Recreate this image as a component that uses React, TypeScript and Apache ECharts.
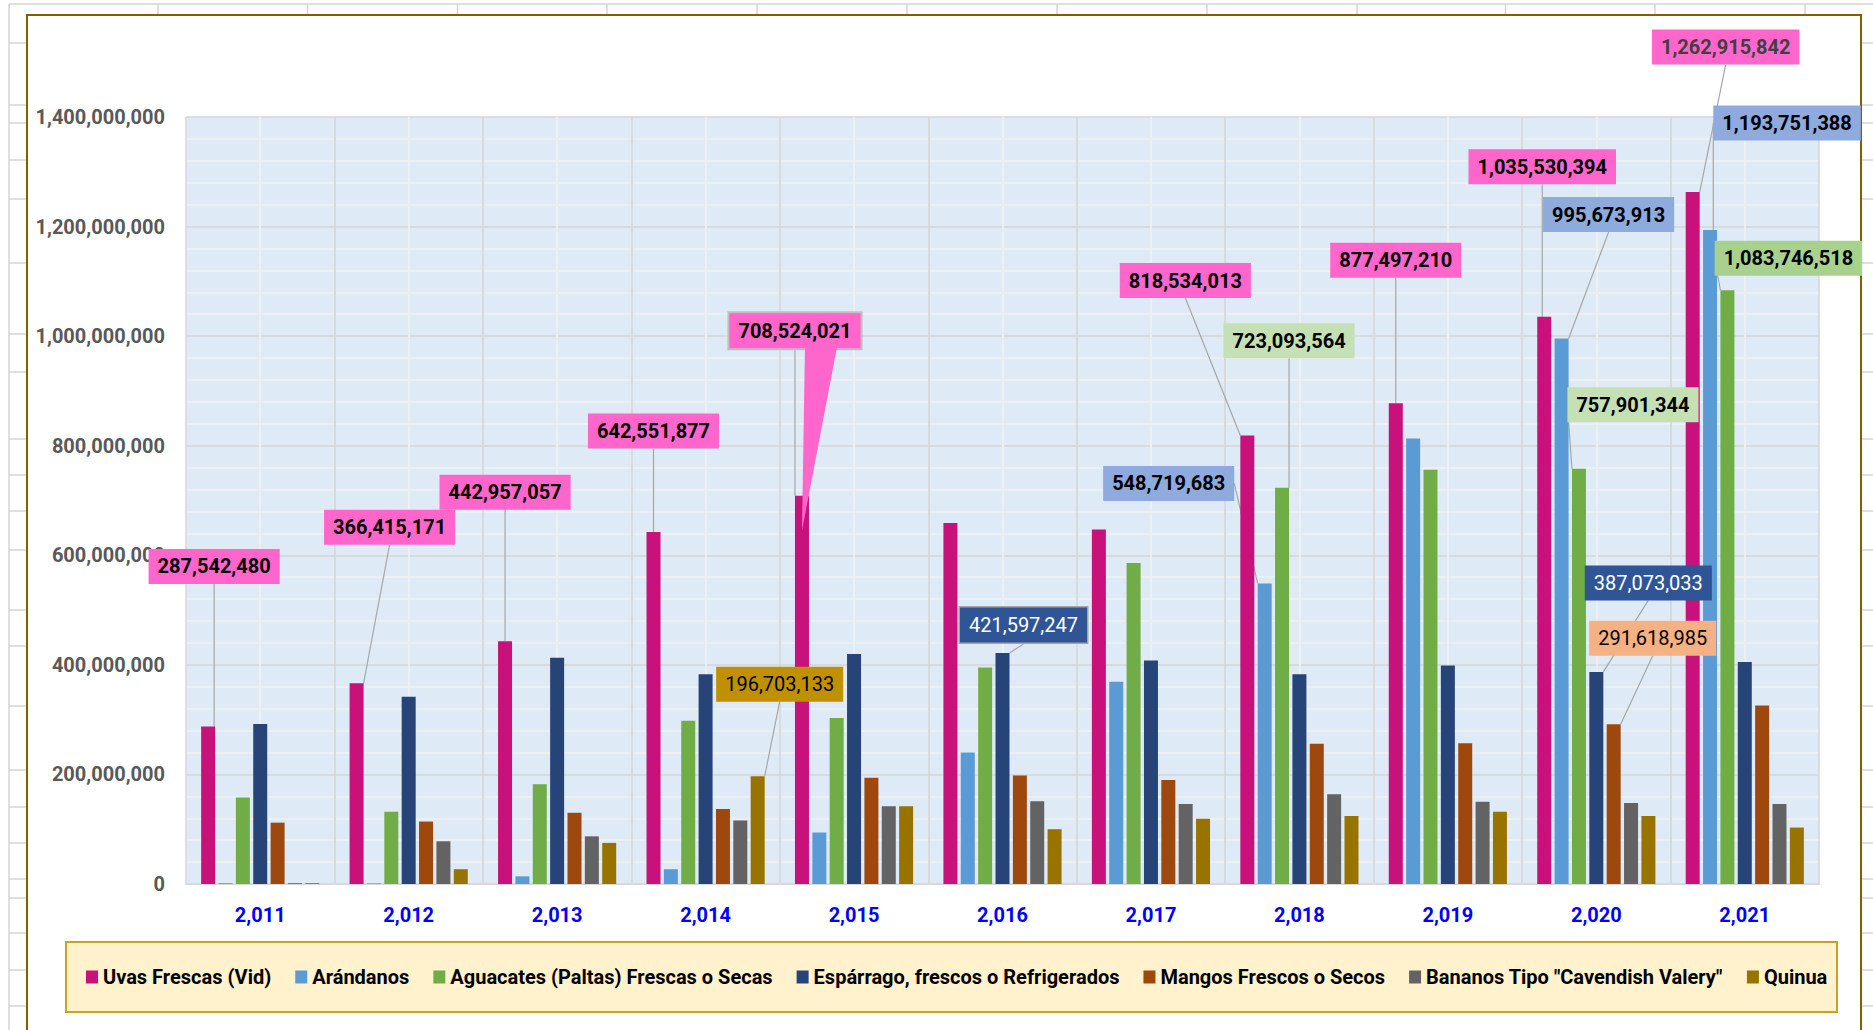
import React, { useEffect, useRef } from 'react';
import * as echarts from 'echarts';

// ---------- DATA ----------
const years = [2011, 2012, 2013, 2014, 2015, 2016, 2017, 2018, 2019, 2020, 2021];

const seriesNames = [
  'Uvas Frescas (Vid)',
  'Arándanos',
  'Aguacates (Paltas) Frescas o Secas',
  'Espárrago, frescos o Refrigerados',
  'Mangos Frescos o Secos',
  'Bananos Tipo "Cavendish Valery"',
  'Quinua',
];

const uvas = [287542480, 366415171, 442957057, 642551877, 708524021, 659000000, 647000000, 818534013, 877497210, 1035530394, 1262915842];
const arandanos = [1500000, 1200000, 14000000, 27000000, 94000000, 240000000, 369000000, 548719683, 813000000, 995673913, 1193751388];
const aguacates = [158000000, 132000000, 182000000, 298000000, 303000000, 395000000, 586000000, 723093564, 756000000, 757901344, 1083746518];
const esparrago = [292000000, 342000000, 413000000, 383000000, 420000000, 421597247, 408000000, 383000000, 399000000, 387073033, 405000000];
const mangos = [112000000, 114000000, 130000000, 137000000, 194000000, 198000000, 190000000, 256000000, 257000000, 291618985, 326000000];
const bananos = [1500000, 78000000, 87000000, 116000000, 142000000, 151000000, 146000000, 164000000, 150000000, 148000000, 146000000];
const quinua = [1500000, 27000000, 75000000, 196703133, 142000000, 100000000, 119000000, 124000000, 132000000, 124000000, 103000000];

const seriesData = [uvas, arandanos, aguacates, esparrago, mangos, bananos, quinua];

const yMin = 0;
const yMax = 1400000000;
const yInterval = 200000000;

// ---------- STYLE ----------
const FONT = 'Roboto, "Noto Sans", "DejaVu Sans", sans-serif';
const colors = ['#C8117A', '#5B9BD5', '#70AD47', '#264478', '#9E480E', '#636363', '#997300'];
const BAR_W = 14;
const BAR_GAP = 0.24;

const labelStyles = [
  { backgroundColor: '#FF66CC', color: '#000000', fontWeight: 'bold' },
  { backgroundColor: '#8FAADC', color: '#000000', fontWeight: 'bold' },
  { backgroundColor: '#C5E0B4', color: '#000000', fontWeight: 'bold' },
  { backgroundColor: '#2F5597', color: '#FFFFFF', fontWeight: 'normal' },
  { backgroundColor: '#F4B183', color: '#000000', fontWeight: 'normal' },
  { backgroundColor: '#A5A5A5', color: '#000000', fontWeight: 'normal' },
  { backgroundColor: '#BF9000', color: '#000000', fontWeight: 'normal' },
];

// callout placement: [seriesIndex, yearIndex, dx from bar centre, dy from bar top, extra style]
const callouts: [number, number, number, number, any][] = [
  [0, 0, 6, -160, {}],
  [0, 1, 33, -156, {}],
  [0, 2, 0, -149, {}],
  [0, 3, 0, -101, {}],
  [0, 4, -7, -165, { borderColor: '#BFBFBF', borderWidth: 2 }],
  [6, 3, 22, -92, {}],
  [3, 5, 21, -28, { borderColor: '#A6A6A6', borderWidth: 1.5 }],
  [0, 7, -62, -155, {}],
  [2, 7, 7, -147, {}],
  [1, 7, -96, -100, {}],
  [0, 8, 0, -143, {}],
  [0, 9, -2, -150, {}],
  [1, 9, 47, -124, {}],
  [2, 9, 54, -64, {}],
  [3, 9, 52, -89, {}],
  [4, 9, 39, -86, {}],
  [0, 10, 33, -145, { color: '#404040' }],
  [1, 10, 77, -107, {}],
  [2, 10, 61, -32, { backgroundColor: '#A9D18E' }],
];

const fmt = (v: number) => Math.round(v).toLocaleString('en-US');

// spreadsheet background rows / columns
const rowYs = [43, 105, 123, 160, 199, 263, 334, 372, 439, 475, 511, 550, 610, 646, 706, 770, 807, 843, 879, 898, 933, 970, 1006];
const colXs = [158, 307.5, 457.5, 607, 757, 907, 1057, 1207, 1357, 1505.5, 1655, 1805];

function buildDecor(wedge: number[][] | null) {
  const sheet = '#D4D4D4';
  const els: any[] = [];
  els.push({ type: 'line', z: -20, shape: { x1: 9, y1: 4, x2: 1873, y2: 4 }, style: { stroke: sheet, lineWidth: 1.5 } });
  els.push({ type: 'line', z: -20, shape: { x1: 9, y1: 4, x2: 9, y2: 1030 }, style: { stroke: sheet, lineWidth: 1.5 } });
  colXs.forEach((x) => els.push({ type: 'line', z: -20, shape: { x1: x, y1: 4, x2: x, y2: 15 }, style: { stroke: sheet, lineWidth: 1.5 } }));
  rowYs.forEach((y) => {
    els.push({ type: 'line', z: -20, shape: { x1: 9, y1: y, x2: 27, y2: y }, style: { stroke: sheet, lineWidth: 1.5 } });
    els.push({ type: 'line', z: -20, shape: { x1: 1861, y1: y, x2: 1873, y2: y }, style: { stroke: sheet, lineWidth: 1.5 } });
  });
  els.push({
    type: 'rect', z: -15,
    shape: { x: 27, y: 15, width: 1834, height: 1040 },
    style: { fill: '#FFFFFF', stroke: '#7F6000', lineWidth: 2 },
  });
  els.push({
    type: 'rect', z: 1,
    shape: { x: 66, y: 942, width: 1771, height: 70 },
    style: { fill: '#FFF2CC', stroke: '#C9A227', lineWidth: 2 },
  });
  if (wedge) {
    els.push({ type: 'polygon', z: 5, shape: { points: wedge }, style: { fill: '#FF66CC' } });
  }
  return els;
}

export default function App() {
  const ref = useRef<HTMLDivElement>(null);

  useEffect(() => {
    if (!ref.current) return;
    const chart = echarts.init(ref.current, undefined, { renderer: 'svg' });

    const lookup: Record<string, any> = {};
    callouts.forEach(([s, i, dx, dy, extra]) => {
      lookup[s + '_' + i] = { dx, dy, extra };
    });

    const series = seriesData.map((arr, s) => ({
      name: seriesNames[s],
      type: 'bar',
      xAxisIndex: 0,
      yAxisIndex: 0,
      barWidth: BAR_W,
      barGap: BAR_GAP * 100 + '%',
      itemStyle: { color: colors[s] },
      label: {
        show: false,
        position: 'top',
        fontFamily: FONT,
        fontSize: 20,
        lineHeight: 21,
        padding: [7, 9, 7, 9],
        formatter: (p: any) => fmt(p.value),
      },
      labelLine: { show: true, lineStyle: { color: '#A6A6A6', width: 1.2 } },
      labelLayout: (params: any) => {
        const c = lookup[s + '_' + params.dataIndex];
        if (!c) return {};
        const r = params.rect;
        return {
          x: r.x + r.width / 2 + c.dx,
          y: r.y + c.dy,
          align: 'center',
          verticalAlign: 'middle',
        };
      },
      data: arr.map((v, i) => {
        const c = lookup[s + '_' + i];
        if (!c) return v;
        return {
          value: v,
          label: { show: true, ...labelStyles[s], ...c.extra },
        };
      }),
    }));

    const option: any = {
      animation: false,
      backgroundColor: '#FFFFFF',
      grid: {
        left: 186, top: 117, width: 1633, height: 767,
        show: true, backgroundColor: '#DEEBF7', borderWidth: 0,
      },
      legend: {
        data: seriesNames,
        left: 86,
        top: 966,
        padding: 0,
        icon: 'rect',
        itemWidth: 12,
        itemHeight: 13,
        itemGap: 24,
        textStyle: { fontFamily: FONT, fontSize: 20, fontWeight: 'bold', color: '#000000', lineHeight: 22 },
      },
      xAxis: [
        {
          type: 'category',
          data: years.map((y) => fmt(y)),
          axisLine: { show: true, lineStyle: { color: '#D9D9D9', width: 2 } },
          axisTick: { show: false },
          splitLine: { show: false },
          axisLabel: { color: '#0000FF', fontFamily: FONT, fontWeight: 'bold', fontSize: 20, margin: 21 },
        },
        {
          type: 'value',
          position: 'top',
          min: 0,
          max: years.length,
          interval: 1,
          axisLine: { show: false },
          axisTick: { show: false },
          axisLabel: { show: false },
          splitLine: { show: true, lineStyle: { color: '#D6D6D6', width: 1.5 } },
          minorTick: { show: false, splitNumber: 2 },
          minorSplitLine: { show: true, lineStyle: { color: '#F2F2F2', width: 1.5 } },
        },
      ],
      yAxis: {
        type: 'value',
        min: yMin,
        max: yMax,
        interval: yInterval,
        axisLine: { show: false },
        axisTick: { show: false },
        axisLabel: {
          color: '#595959', fontFamily: FONT, fontWeight: 'bold', fontSize: 20, margin: 21,
          formatter: (v: number) => fmt(v),
        },
        splitLine: { show: true, lineStyle: { color: '#D6D6D6', width: 1.5 } },
        minorTick: { show: false, splitNumber: 5 },
        minorSplitLine: { show: true, lineStyle: { color: '#F2F2F2', width: 1.5 } },
      },
      graphic: { elements: buildDecor(null) },
      series,
    };

    chart.setOption(option);

    // callout wedge for the 2015 Uvas label
    const catIdx = 4;
    const cx = chart.convertToPixel({ xAxisIndex: 0 }, catIdx) as number;
    const top = chart.convertToPixel({ yAxisIndex: 0 }, uvas[catIdx]) as number;
    const groupW = seriesData.length * BAR_W + (seriesData.length - 1) * BAR_W * BAR_GAP;
    const barCX = cx - groupW / 2 + BAR_W / 2;
    const c = lookup['0_' + catIdx];
    const labelCX = barCX + c.dx;
    const labelBottom = top + c.dy + 17.5;
    const wedge = [
      [labelCX + 10, labelBottom - 1],
      [labelCX + 42, labelBottom - 1],
      [barCX, top + 35],
    ];
    chart.setOption({ graphic: { elements: buildDecor(wedge) } }, { replaceMerge: ['graphic'] });

    return () => chart.dispose();
  }, []);

  return (
    <div
      ref={ref}
      style={{ position: 'fixed', left: 0, top: 0, width: 1873, height: 1030, overflow: 'hidden' }}
    />
  );
}
